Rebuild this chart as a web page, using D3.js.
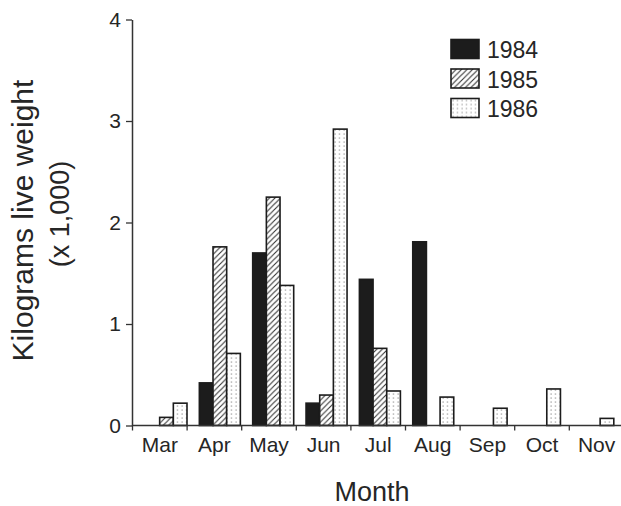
<!DOCTYPE html>
<html>
<head>
<meta charset="utf-8">
<script src="https://cdn.jsdelivr.net/npm/d3@7/dist/d3.min.js"></script>
<style>
  html, body { margin: 0; padding: 0; background: #fff; }
  svg { display: block; }
  text { font-family: "Liberation Sans", Arial, Helvetica, sans-serif; fill: #262626; }
</style>
</head>
<body>
<svg id="chart" width="621" height="506"></svg>
<script>
// ---- data ----
const months = ["Mar", "Apr", "May", "Jun", "Jul", "Aug", "Sep", "Oct", "Nov"];
const years = ["1984", "1985", "1986"];
const values1984 = [0, 0.42, 1.70, 0.22, 1.44, 1.81, 0, 0, 0];
const values1985 = [0.08, 1.76, 2.25, 0.30, 0.76, 0, 0, 0, 0];
const values1986 = [0.22, 0.71, 1.38, 2.92, 0.34, 0.28, 0.17, 0.36, 0.07];
const yTicks = [0, 1, 2, 3, 4];
const yTitle1 = "Kilograms live weight";
const yTitle2 = "(x 1,000)";
const xTitle = "Month";

const seriesByYear = { "1984": values1984, "1985": values1985, "1986": values1986 };
const fills = { "1984": "#1c1c1c", "1985": "url(#hatch)", "1986": "url(#dots)" };

const svg = d3.select("#chart");

// ---- patterns ----
const defs = svg.append("defs");
const hatch = defs.append("pattern").attr("id", "hatch")
  .attr("patternUnits", "userSpaceOnUse").attr("width", 5.5).attr("height", 5.5);
hatch.append("rect").attr("width", 5.5).attr("height", 5.5).attr("fill", "#fff");
hatch.append("path").attr("d", "M-1,1 l2,-2 M0,5.5 l5.5,-5.5 M4.5,6.5 l2,-2")
  .attr("stroke", "#333").attr("stroke-width", 1.1);
const dots = defs.append("pattern").attr("id", "dots")
  .attr("patternUnits", "userSpaceOnUse").attr("width", 4.5).attr("height", 4);
dots.append("rect").attr("width", 4.5).attr("height", 4).attr("fill", "#fff");
dots.append("rect").attr("x", 1.5).attr("y", 1.5).attr("width", 1.1).attr("height", 1.1).attr("fill", "#777");

// ---- scales ----
const y = d3.scaleLinear().domain([0, 4]).range([425.5, 19.5]);
const xAxisBand = d3.scaleBand().domain(months).range([132.5, 132.5 + 9 * 54.6]).padding(0);
const xGroup = d3.scalePoint().domain(months).range([166.5, 593.3]);
const xInner = d3.scaleBand().domain(years).range([-20.5, 20.5]).padding(0);

// ---- bars ----
const rows = [];
months.forEach((m, i) => {
  years.forEach(yr => {
    const v = seriesByYear[yr][i];
    if (v > 0) rows.push({ month: m, year: yr, value: v });
  });
});
svg.append("g").selectAll("rect").data(rows).join("rect")
  .attr("x", d => xGroup(d.month) + xInner(d.year))
  .attr("y", d => y(d.value))
  .attr("width", xInner.bandwidth())
  .attr("height", d => y(0) - y(d.value))
  .attr("fill", d => fills[d.year])
  .attr("stroke", "#1c1c1c")
  .attr("stroke-width", 1.6);

// ---- y axis ----
const yAxis = svg.append("g").attr("transform", "translate(132,0)")
  .call(d3.axisLeft(y).tickValues(yTicks).tickFormat(d3.format("d"))
    .tickSize(6).tickSizeOuter(0).tickPadding(5));
yAxis.select(".domain").attr("stroke", "#333").attr("stroke-width", 1.5);
yAxis.selectAll(".tick line").attr("stroke", "#333").attr("stroke-width", 1.3);
yAxis.selectAll(".tick text").attr("font-size", 21)
  .style("font-family", "'Liberation Sans', Arial, sans-serif").attr("fill", "#262626");

// ---- x axis ----
const xg = svg.append("g");
xg.append("line").attr("x1", 132).attr("x2", 621).attr("y1", y(0)).attr("y2", y(0))
  .attr("stroke", "#333").attr("stroke-width", 1.5);
const bounds = months.map(m => xAxisBand(m));
xg.selectAll("line.xt").data(bounds).join("line").attr("class", "xt")
  .attr("x1", d => d).attr("x2", d => d)
  .attr("y1", y(0)).attr("y2", y(0) + 5)
  .attr("stroke", "#333").attr("stroke-width", 1.3);
xg.selectAll("text").data(months).join("text")
  .attr("x", d => xAxisBand(d) + xAxisBand.bandwidth() / 2)
  .attr("y", 452)
  .attr("text-anchor", "middle")
  .attr("font-size", 21)
  .text(d => d);

// ---- titles ----
svg.append("text").attr("transform", "translate(33,220.5) rotate(-90)")
  .attr("text-anchor", "middle").attr("font-size", 30).text(yTitle1);
svg.append("text").attr("transform", "translate(69,214) rotate(-90)")
  .attr("text-anchor", "middle").attr("font-size", 27).text(yTitle2);
svg.append("text").attr("x", 372).attr("y", 501)
  .attr("text-anchor", "middle").attr("font-size", 27).text(xTitle);

// ---- legend ----
const legendY = d3.scalePoint().domain(years).range([39.5, 98.5]);
const lg = svg.append("g").selectAll("g").data(years).join("g")
  .attr("transform", d => `translate(451,${legendY(d)})`);
lg.append("rect").attr("width", 28).attr("height", 19)
  .attr("fill", d => fills[d]).attr("stroke", "#1c1c1c").attr("stroke-width", 1.6);
lg.append("text").attr("x", 36).attr("y", 18.5).attr("font-size", 23).text(d => d);
</script>
</body>
</html>
